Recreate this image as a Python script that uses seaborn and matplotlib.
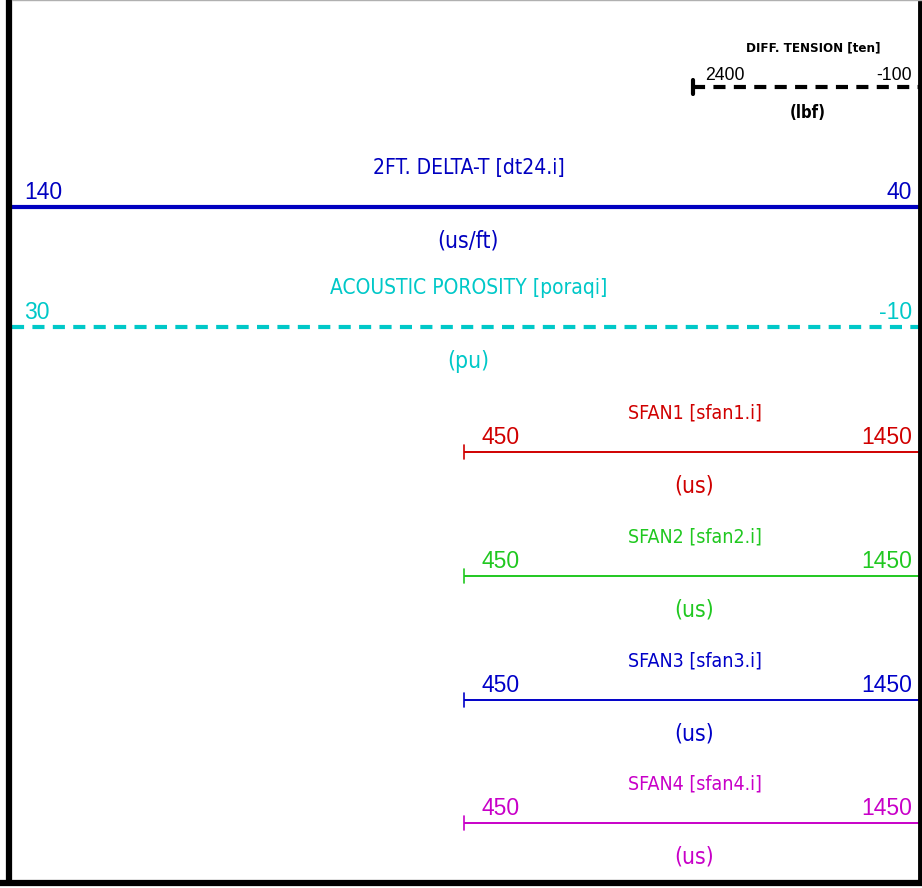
import matplotlib
matplotlib.use("Agg")
import matplotlib.pyplot as plt
import seaborn as sns
import pandas as pd
from matplotlib import font_manager

sns.set_theme(style="white")

_names = {f.name for f in font_manager.fontManager.ttflist}
NARROW = "Liberation Sans Narrow" if "Liberation Sans Narrow" in _names else "DejaVu Sans"
NARROW_STRETCH = "normal" if NARROW == "Liberation Sans Narrow" else "condensed"
REGULAR = "Liberation Sans"

# ---------------- data ----------------
curve_titles = ["DIFF. TENSION [ten]", "2FT. DELTA-T [dt24.i]",
                "ACOUSTIC POROSITY [poraqi]", "SFAN1 [sfan1.i]",
                "SFAN2 [sfan2.i]", "SFAN3 [sfan3.i]", "SFAN4 [sfan4.i]"]
left_scale = ["2400", "140", "30", "450", "450", "450", "450"]
right_scale = ["-100", "40", "-10", "1450", "1450", "1450", "1450"]
units = ["(lbf)", "(us/ft)", "(pu)", "(us)", "(us)", "(us)", "(us)"]
colors = ["#000000", "#0000c0", "#00c8c8", "#d00000", "#20c820", "#0000c8", "#c800c8"]
dashed = [True, False, True, False, False, False, False]

# ---------------- layout (pixel space) ----------------
W, H = 922, 888
line_y = [87, 207, 327, 452, 576, 700, 823]
x_start = [693, 12, 12, 464, 464, 464, 464]
x_end = 920
lw = [3.0, 3.0, 3.0, 1.4, 1.4, 1.4, 1.4]
has_tick = [True, False, False, True, True, True, True]
title_fs = [9.5, 15, 15, 14, 14, 14, 14]

fig = plt.figure(figsize=(W / 100, H / 100), dpi=100)
ax = fig.add_axes([0, 0, 1, 1])
ax.set_xlim(0, W)
ax.set_ylim(H, 0)
ax.axis("off")

for i in range(len(curve_titles)):
    c = colors[i]
    y = line_y[i]
    x0 = x_start[i]
    df = pd.DataFrame({"x": [x0, x_end], "y": [y, y]})
    sns.lineplot(data=df, x="x", y="y", ax=ax, color=c, linewidth=lw[i],
                 estimator=None, sort=False, legend=False)
    ln = ax.lines[-1]
    ln.set_solid_capstyle("butt")
    if dashed[i]:
        ln.set_dashes((2.9, 2.0))
        ln.set_dash_capstyle("butt")
    big = i == 0
    if has_tick[i]:
        tdf = pd.DataFrame({"x": [x0, x0], "y": [y - 7, y + 7]})
        sns.lineplot(data=tdf, x="x", y="y", ax=ax, color=c,
                     linewidth=3.0 if big else 1.2,
                     estimator=None, sort=False, legend=False)
    cx = (x0 + W) / 2
    ax.text(cx + (6 if big else 2), y - 39, curve_titles[i], color=c, ha="center", va="center",
            fontsize=title_fs[i], family=[NARROW, "DejaVu Sans"], fontstretch=NARROW_STRETCH,
            fontweight="bold" if big else "normal")
    scale_fs = 12.7 if big else 16.5
    ax.text(x0 + (12 if x0 < 100 or big else 17), y - 3, left_scale[i], color=c,
            ha="left", va="bottom", fontsize=scale_fs, family=[REGULAR, "DejaVu Sans"])
    ax.text(x_end - 8, y - 3, right_scale[i], color=c,
            ha="right", va="bottom", fontsize=scale_fs, family=[REGULAR, "DejaVu Sans"])
    ax.text(cx + (0 if big else 1), y + (26 if big else 34), units[i], color=c,
            ha="center", va="center", fontsize=12 if big else 16.5,
            family=[NARROW, "DejaVu Sans"], fontstretch=NARROW_STRETCH,
            fontweight="bold" if big else "normal")

# frame
ax.plot([9, 9], [0, 884], color="black", linewidth=4.5, solid_capstyle="butt")
ax.plot([920, 920], [0, 884], color="black", linewidth=3.5, solid_capstyle="butt")
ax.plot([0, W], [883, 883], color="black", linewidth=4.5, solid_capstyle="butt")
ax.plot([12, W], [0.5, 0.5], color="#b0b0b0", linewidth=1.0)

fig.savefig("out.png", dpi=100, facecolor="white")
